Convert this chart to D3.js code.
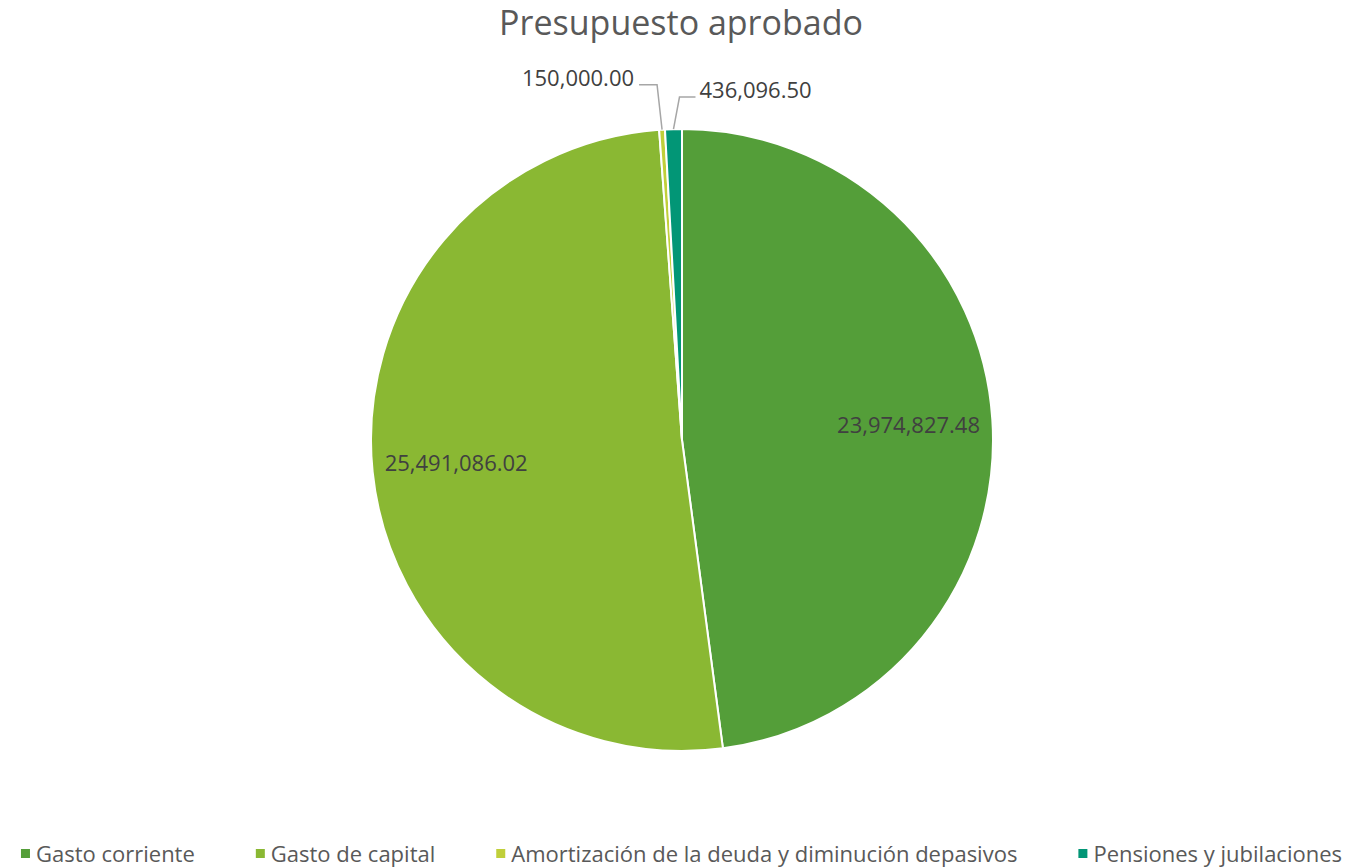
<!DOCTYPE html>
<html>
<head>
<meta charset="utf-8">
<script src="https://cdn.jsdelivr.net/npm/d3@7"></script>
<style>
  body { margin: 0; background: #fff; }
  svg { display: block; }
</style>
</head>
<body>
<svg id="chart" width="1363" height="867"></svg>
<script>
"use strict"

let title = "Presupuesto aprobado"
let categories = ["Gasto corriente", "Gasto de capital", "Amortización de la deuda y diminución depasivos", "Pensiones y jubilaciones"]
let values = [23974827.48, 25491086.02, 150000.00, 436096.50]
let labels = ["23,974,827.48", "25,491,086.02", "150,000.00", "436,096.50"]
let colors = ["#549e39", "#8ab833", "#c0cf3a", "#029676"]

let width = 1363, height = 867
let cx = 682, cy = 440, radius = 311
let svg = d3.select("#chart")
let font = "'Open Sans', 'Liberation Sans', Arial, sans-serif"

svg.append("text")
    .attr("x", 681).attr("y", 35)
    .attr("text-anchor", "middle")
    .attr("font-family", font)
    .attr("font-size", 34)
    .attr("fill", "#595959")
    .text(title)

let data = categories.map(function(c, i) {
    return { name: c, value: values[i], label: labels[i], color: colors[i] }
})

let pie = d3.pie().sort(null).value(function(d) { return d.value })
let arcs = pie(data)
let arc = d3.arc().innerRadius(0).outerRadius(radius)
let labelArc = d3.arc().innerRadius(radius * 0.73).outerRadius(radius * 0.73)

let g = svg.append("g").attr("transform", "translate(" + cx + "," + cy + ")")

g.selectAll("path.slice")
    .data(arcs)
    .enter().append("path")
    .attr("class", "slice")
    .attr("d", arc)
    .attr("fill", function(d) { return d.data.color })
    .attr("stroke", "#fff")
    .attr("stroke-width", 2)
    .attr("stroke-linejoin", "round")

// big slices: label inside
let inner = arcs.filter(function(d) { return d.endAngle - d.startAngle > 0.3 })
g.selectAll("text.inlabel")
    .data(inner)
    .enter().append("text")
    .attr("class", "inlabel")
    .attr("x", function(d) { return labelArc.centroid(d)[0] })
    .attr("y", function(d) { return labelArc.centroid(d)[1] })
    .attr("dy", "0.36em")
    .attr("text-anchor", "middle")
    .attr("font-family", font)
    .attr("font-size", 22)
    .attr("fill", "#404040")
    .text(function(d) { return d.data.label })

// small slices: label outside with leader line
let outer = arcs.filter(function(d) { return d.endAngle - d.startAngle <= 0.3 })
// elbow offsets (relative to slice edge point) for the two tiny slices
let elbows = [[-5, -45, -18], [6, -32, 16]]
outer.forEach(function(d, i) {
    let a = (d.startAngle + d.endAngle) / 2
    let px = Math.sin(a) * radius, py = -Math.cos(a) * radius
    let e = elbows[i]
    let ex = px + e[0], ey = py + e[1]
    let tx = ex + e[2]
    g.append("polyline")
        .attr("points", [[px, py], [ex, ey], [tx, ey]].map(function(p) { return p.join(",") }).join(" "))
        .attr("fill", "none")
        .attr("stroke", "#a6a6a6")
        .attr("stroke-width", 1.5)
    g.append("text")
        .attr("x", tx + (e[2] < 0 ? -5 : 4))
        .attr("y", ey - 7)
        .attr("dy", "0.36em")
        .attr("text-anchor", e[2] < 0 ? "end" : "start")
        .attr("font-family", font)
        .attr("font-size", 22)
        .attr("fill", "#404040")
        .text(d.data.label)
})

// legend
let legend = svg.append("g")
let items = legend.selectAll("g.item")
    .data(data)
    .enter().append("g")
    .attr("class", "item")
items.append("rect")
    .attr("width", 9).attr("height", 9)
    .attr("y", -5)
    .attr("fill", function(d) { return d.color })
items.append("text")
    .attr("x", 15)
    .attr("dy", "0.36em")
    .attr("font-family", font)
    .attr("font-size", 22)
    .attr("fill", "#595959")
    .text(function(d) { return d.name })

let xpos = 0
let offsets = []
items.each(function() {
    offsets.push(xpos)
    xpos += this.getBBox().width + 61
})
let total = xpos - 61
let start = (width - total) / 2
items.attr("transform", function(d, i) { return "translate(" + (start + offsets[i]) + ",854)" })
</script>
</body>
</html>
